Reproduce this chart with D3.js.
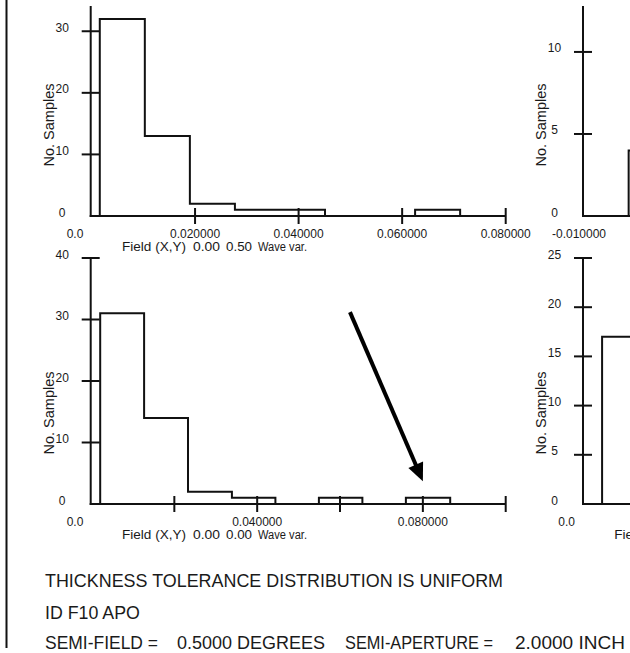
<!DOCTYPE html>
<html>
<head>
<meta charset="utf-8">
<script src="https://cdn.jsdelivr.net/npm/d3@7"></script>
<style>
  html, body { margin: 0; padding: 0; background: #fff; }
  svg { display: block; }
  text { font-family: "Liberation Sans", Arial, sans-serif; fill: #1a1a1a; }
</style>
</head>
<body>
<svg id="chart" width="630" height="653"></svg>
<script>
// ---------------- DATA ----------------
// Top-left histogram: Field (X,Y) 0.00 0.50, wave variance
const topLeftEdges  = [0.0016, 0.0103, 0.0190, 0.0277, 0.0364, 0.0451, 0.0538, 0.0625, 0.0712];
const topLeftCounts = [32, 13, 2, 1, 1, 0, 0, 1];
const topLeftXTicks = [0.02, 0.04, 0.06, 0.08];
const topLeftXLabels = ["0.020000", "0.040000", "0.060000", "0.080000"];
const topLeftYTicks = [10, 20, 30];
const topLeftYLabels = ["0", "10", "20", "30"];

// Bottom-left histogram: Field (X,Y) 0.00 0.00, wave variance
const botLeftEdges  = [0.0021, 0.0127, 0.0233, 0.0339, 0.0444, 0.0549, 0.0654, 0.0759, 0.0866];
const botLeftCounts = [31, 14, 2, 1, 0, 1, 0, 1];
const botLeftXTicks = [0.02, 0.04, 0.06, 0.08, 0.10];
const botLeftXLabels = ["", "0.040000", "", "0.080000", ""];
const botLeftYTicks = [10, 20, 30, 40];
const botLeftYLabels = ["0", "10", "20", "30", "40"];

// Top-right histogram (partly outside the page)
const topRightEdges  = [-0.0078, -0.0052];
const topRightCounts = [4];
const topRightYTicks = [5, 10];
const topRightYLabels = ["0", "5", "10"];

// Bottom-right histogram (partly outside the page)
const botRightEdges  = [0.0046, 0.0152];
const botRightCounts = [17];
const botRightYTicks = [5, 10, 15, 20, 25];
const botRightYLabels = ["0", "5", "10", "15", "20", "25"];

const fieldLabelTop = ["Field (X,Y)", "0.00", "0.50", "Wave var."];
const fieldLabelBot = ["Field (X,Y)", "0.00", "0.00", "Wave var."];
const fieldLabelBotRight = ["Field (X,Y)"];
const yTitle = "No. Samples";

const infoLine1 = "THICKNESS TOLERANCE DISTRIBUTION IS UNIFORM";
const infoLine2 = "ID F10 APO";
const infoLine3 = ["SEMI-FIELD =", "0.5000 DEGREES", "SEMI-APERTURE =", "2.0000 INCH"];

// annotation arrow (data coords of bottom-left panel)
const arrowFrom = [0.0624, 31.2];
const arrowTo   = [0.0800, 3.7];

// ---------------- DRAW ----------------
const svg = d3.select("#chart");
const INK = "#111";
const SW = 2;

// page left rule
svg.append("line").attr("x1", 6.5).attr("x2", 6.5).attr("y1", 0).attr("y2", 648)
  .attr("stroke", INK).attr("stroke-width", SW);

function panel(cfg) {
  const g = svg.append("g");
  const x = d3.scaleLinear().domain(cfg.xDomain).range([cfg.x0, cfg.x1]);
  const y = d3.scaleLinear().domain(cfg.yDomain).range([cfg.base, cfg.top]);
  const ax = cfg.axisX;

  // histogram outline (step path per contiguous group)
  const e = cfg.edges, c = cfg.counts;
  let d = "";
  let i = 0;
  while (i < c.length) {
    if (c[i] === 0) { i++; continue; }
    d += `M${x(e[i])},${y(0)}`;
    while (i < c.length && c[i] > 0) {
      d += `V${y(c[i])}H${x(e[i + 1])}`;
      i++;
    }
    d += `V${y(0)}`;
  }
  g.append("path").attr("d", d).attr("fill", "none")
    .attr("stroke", INK).attr("stroke-width", SW).attr("stroke-linejoin", "miter");

  // y axis
  g.append("line").attr("x1", ax).attr("x2", ax)
    .attr("y1", y(0) + 1).attr("y2", y(cfg.yDomain[1]))
    .attr("stroke", INK).attr("stroke-width", SW);
  g.selectAll(null).data(cfg.yTicks).join("line")
    .attr("x1", ax - 9).attr("x2", ax + 9)
    .attr("y1", v => y(v)).attr("y2", v => y(v))
    .attr("stroke", INK).attr("stroke-width", SW);
  g.selectAll(null).data([0].concat(cfg.yTicks)).join("text")
    .attr("x", ax - 28.5).attr("y", v => y(v) + 0.5)
    .attr("text-anchor", "middle").attr("font-size", 12)
    .text((v, k) => cfg.yLabels[k]);

  // x axis
  g.append("line").attr("x1", ax - 1).attr("x2", cfg.xEnd)
    .attr("y1", y(0)).attr("y2", y(0))
    .attr("stroke", INK).attr("stroke-width", SW);
  g.selectAll(null).data(cfg.xTicks).join("line")
    .attr("x1", v => x(v)).attr("x2", v => x(v))
    .attr("y1", y(0) - 8).attr("y2", y(0) + 8)
    .attr("stroke", INK).attr("stroke-width", SW);
  g.selectAll(null).data(cfg.xTicks).join("text")
    .attr("x", v => x(v)).attr("y", y(0) + 21.5)
    .attr("text-anchor", "middle").attr("font-size", 12)
    .text((v, k) => cfg.xLabels[k]);
  // first x label (domain start)
  g.append("text").attr("x", ax + cfg.firstLabelDx).attr("y", y(0) + 21.5)
    .attr("text-anchor", "middle").attr("font-size", 12).text(cfg.firstLabel);

  // y title
  g.append("text")
    .attr("transform", `translate(${ax - 37},${y(0) - 91}) rotate(-90)`)
    .attr("text-anchor", "middle").attr("font-size", 14.5).text(yTitle);

  // field label
  if (cfg.field) {
    const offs = [31.3, 102.3, 135.3, 167.3];
    const lens = [64, 27, 26, 49];
    g.selectAll(null).data(cfg.field).join("text")
      .attr("x", (t, k) => ax + offs[k]).attr("y", y(0) + 34.5)
      .attr("font-size", 12.5)
      .attr("textLength", (t, k) => lens[k])
      .attr("lengthAdjust", "spacingAndGlyphs")
      .text(t => t);
  }
  return { x, y };
}

const TL = panel({
  axisX: 90.7, x0: 91.5, x1: 505.7, xEnd: 505.7, xDomain: [0, 0.08],
  base: 216, top: 6, yDomain: [0, 34.1],
  edges: topLeftEdges, counts: topLeftCounts,
  xTicks: topLeftXTicks, xLabels: topLeftXLabels,
  yTicks: topLeftYTicks, yLabels: topLeftYLabels,
  firstLabel: "0.0", firstLabelDx: -15.7, field: fieldLabelTop
});

const BL = panel({
  axisX: 90.7, x0: 91.5, x1: 505.7, xEnd: 505.7, xDomain: [0, 0.10],
  base: 504, top: 258, yDomain: [0, 40],
  edges: botLeftEdges, counts: botLeftCounts,
  xTicks: botLeftXTicks, xLabels: botLeftXLabels,
  yTicks: botLeftYTicks, yLabels: botLeftYLabels,
  firstLabel: "0.0", firstLabelDx: -15.7, field: fieldLabelBot
});

panel({
  axisX: 583, x0: 583, x1: 998, xEnd: 640, xDomain: [-0.01, 0.01],
  base: 216, top: 6, yDomain: [0, 12.8],
  edges: topRightEdges, counts: topRightCounts,
  xTicks: [], xLabels: [],
  yTicks: topRightYTicks, yLabels: topRightYLabels,
  firstLabel: "-0.010000", firstLabelDx: -4, field: null
});

panel({
  axisX: 583, x0: 583, x1: 998, xEnd: 640, xDomain: [0, 0.10],
  base: 504, top: 258, yDomain: [0, 25],
  edges: botRightEdges, counts: botRightCounts,
  xTicks: [], xLabels: [],
  yTicks: botRightYTicks, yLabels: botRightYLabels,
  firstLabel: "0.0", firstLabelDx: -16.3, field: fieldLabelBotRight
});

// annotation arrow
{
  const x1 = BL.x(arrowFrom[0]), y1 = BL.y(arrowFrom[1]);
  const x2 = BL.x(arrowTo[0]),   y2 = BL.y(arrowTo[1]);
  const L = Math.hypot(x2 - x1, y2 - y1);
  const ux = (x2 - x1) / L, uy = (y2 - y1) / L;
  const head = 18, half = 8;
  const bx = x2 - ux * head, by = y2 - uy * head;
  svg.append("line").attr("x1", x1).attr("y1", y1).attr("x2", bx + ux * 2).attr("y2", by + uy * 2)
    .attr("stroke", "#000").attr("stroke-width", 4);
  svg.append("path")
    .attr("d", `M${x2},${y2}L${bx - uy * half},${by + ux * half}L${bx + uy * half},${by - ux * half}Z`)
    .attr("fill", "#000");
}

// info text
const fs = 17.8;
svg.append("text").attr("x", 45).attr("y", 587).attr("font-size", fs)
  .attr("textLength", 458).attr("lengthAdjust", "spacingAndGlyphs").text(infoLine1);
svg.append("text").attr("x", 45).attr("y", 619).attr("font-size", fs).text(infoLine2);
const l3x = [45, 177, 345, 515];
const l3w = [113, 148, 148, 110];
svg.selectAll(null).data(infoLine3).join("text")
  .attr("x", (t, k) => l3x[k]).attr("y", 649).attr("font-size", fs)
  .attr("textLength", (t, k) => l3w[k]).attr("lengthAdjust", "spacingAndGlyphs")
  .text(t => t);
</script>
</body>
</html>
